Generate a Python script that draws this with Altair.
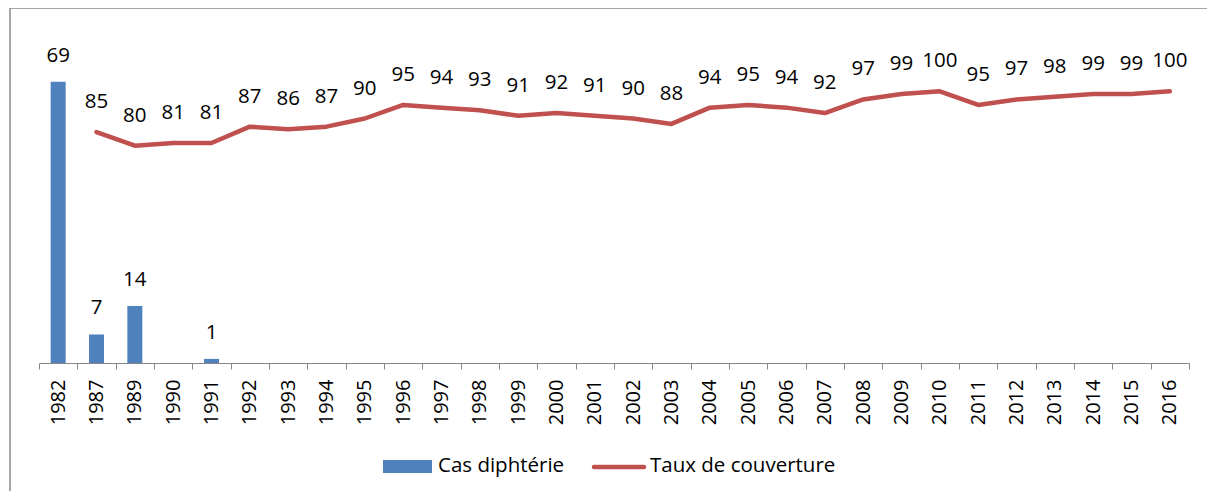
import altair as alt
import pandas as pd

years = ["1982", "1987", "1989", "1990", "1991", "1992", "1993", "1994", "1995",
         "1996", "1997", "1998", "1999", "2000", "2001", "2002", "2003", "2004",
         "2005", "2006", "2007", "2008", "2009", "2010", "2011", "2012", "2013",
         "2014", "2015", "2016"]
cases = [69, 7, 14, None, 1, None, None, None, None,
         None, None, None, None, None, None, None, None, None,
         None, None, None, None, None, None, None, None, None,
         None, None, None]
coverage = [None, 85, 80, 81, 81, 87, 86, 87, 90,
            95, 94, 93, 91, 92, 91, 90, 88, 94,
            95, 94, 92, 97, 99, 100, 95, 97, 98,
            99, 99, 100]

BLUE = "#4F81BD"
RED = "#C0504D"
FONT = "Open Sans"
FS = 20.5

df = pd.DataFrame({"year": years, "cases": cases, "coverage": coverage})
one = pd.DataFrame({"k": [0]})

W, H = 1150, 326

xenc = alt.X("year:O", sort=years, title=None,
             scale=alt.Scale(paddingInner=0, paddingOuter=0),
             axis=alt.Axis(labelAngle=-90, labelFontSize=20, labelFont=FONT,
                           labelColor="#000000", labelPadding=10,
                           domainColor="#868686", tickColor="#868686",
                           tickSize=6, tickBand="extent", grid=False))

base = alt.Chart(df)
ybar = alt.Y("cases:Q", scale=alt.Scale(domain=[0, 80]), axis=None)
yline = alt.Y("coverage:Q", scale=alt.Scale(domain=[0, 120]), axis=None)

bars = base.transform_filter("datum.cases != null").mark_bar(size=15, color=BLUE).encode(
    x=xenc, y=ybar,
)
bar_text = base.transform_filter("datum.cases != null").mark_text(
    font=FONT, fontSize=FS, dy=-26, color="#000000", baseline="middle"
).encode(x=alt.X("year:O", sort=years), y=ybar, text="cases:Q")

line = base.transform_filter("datum.coverage != null").mark_line(
    color=RED, strokeWidth=4.5, strokeCap="round", strokeJoin="round"
).encode(x=alt.X("year:O", sort=years), y=yline)
line_text = base.transform_filter("datum.coverage != null").mark_text(
    font=FONT, fontSize=FS, dy=-30, color="#000000", baseline="middle"
).encode(x=alt.X("year:O", sort=years), y=yline, text="coverage:Q")

border_left = alt.Chart(one).mark_rule(color="#898989", strokeWidth=1.5, clip=False).encode(
    x=alt.value(-29), y=alt.value(-29), y2=alt.value(460)
)
border_top = alt.Chart(one).mark_rule(color="#898989", strokeWidth=1.5, clip=False).encode(
    x=alt.value(-29), x2=alt.value(1170), y=alt.value(-29)
)

leg_rect = alt.Chart(one).mark_rect(color=BLUE, clip=False).encode(
    x=alt.value(344), x2=alt.value(393), y=alt.value(423), y2=alt.value(436)
)
leg_text1 = alt.Chart(one).mark_text(
    text="Cas diphtérie", font=FONT, fontSize=FS, align="left", baseline="middle", color="#000000"
).encode(x=alt.value(399), y=alt.value(429))
leg_line = alt.Chart(one).mark_rule(color=RED, strokeWidth=4.5, strokeCap="round").encode(
    x=alt.value(555), x2=alt.value(605), y=alt.value(430)
)
leg_text2 = alt.Chart(one).mark_text(
    text="Taux de couverture", font=FONT, fontSize=FS, align="left", baseline="middle", color="#000000"
).encode(x=alt.value(611), y=alt.value(429))

chart = alt.layer(
    bars, bar_text, line, line_text, border_left, border_top,
    leg_rect, leg_text1, leg_line, leg_text2
).resolve_scale(y="independent").properties(
    width=W, height=H,
    background="white",
    autosize=alt.AutoSizeParams(type="none"),
    padding={"left": 31, "top": 29, "right": 18, "bottom": 128},
).configure_view(stroke=None, strokeWidth=0)

chart.save("out.html", embed_options={"renderer": "svg", "actions": False})
